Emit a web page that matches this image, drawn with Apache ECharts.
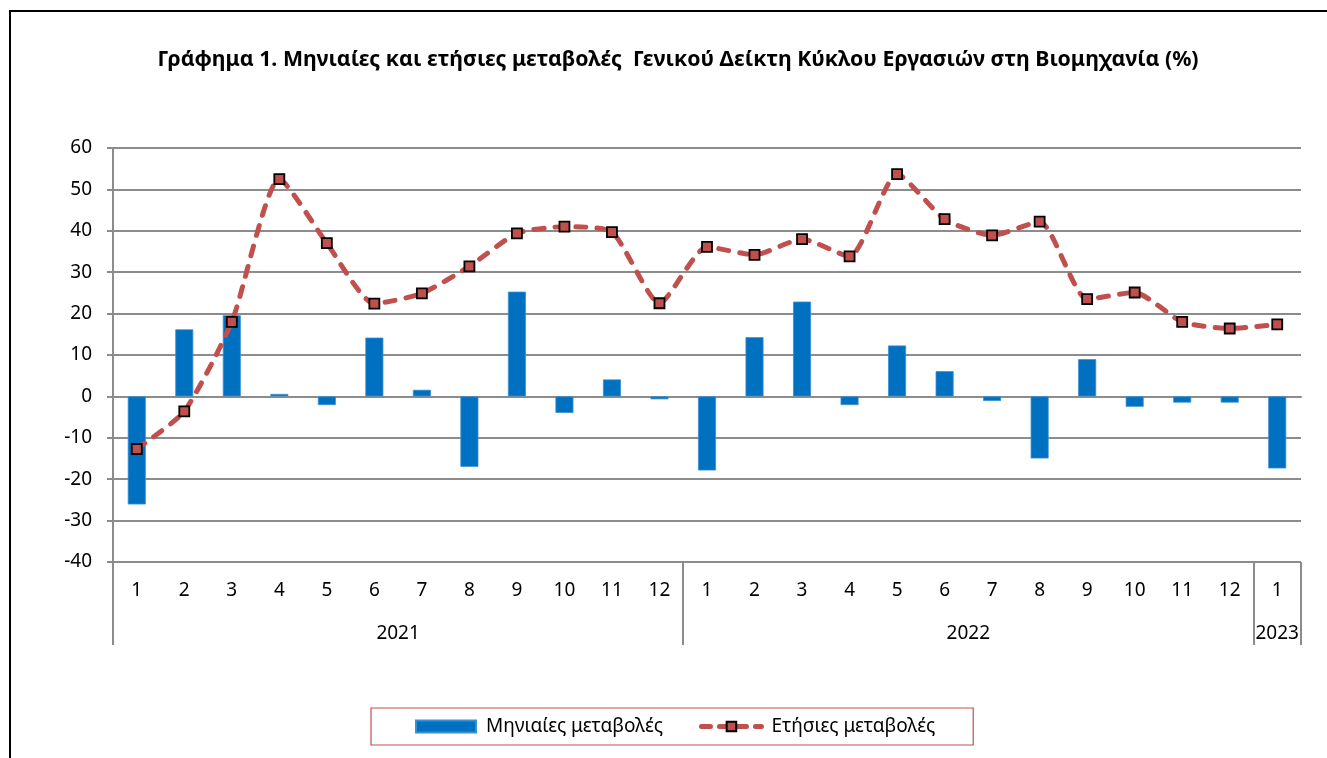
<!DOCTYPE html>
<html>
<head>
<meta charset="utf-8">
<script src="https://cdn.jsdelivr.net/npm/echarts@6/dist/echarts.min.js"></script>
<style>
  html, body { margin: 0; padding: 0; background: #fff; }
  #chart { width: 1327px; height: 758px; }
</style>
</head>
<body>
<div id="chart"></div>
<script>
// months of each year, 2021-01 .. 2023-01
var months = ['1','2','3','4','5','6','7','8','9','10','11','12',
              '1','2','3','4','5','6','7','8','9','10','11','12','1'];
var years = ['2021', '2022', '2023'];
var yearSpans = [12, 12, 1];   // months in each year group

// Μηνιαίες μεταβολές (bars)
var monthly = [-26.1, 16.2, 19.6, 0.6, -2.1, 14.2, 1.6, -17.0, 25.3, -4.0, 4.1, -0.7,
               -17.9, 14.3, 22.9, -2.1, 12.3, 6.1, -1.1, -15.0, 9.0, -2.5, -1.5, -1.5,
               -17.4];
// Ετήσιες μεταβολές (line)
var yearly = [-12.7, -3.6, 18.0, 52.5, 37.0, 22.4, 24.9, 31.4, 39.4, 41.0, 39.7, 22.5,
              36.1, 34.2, 38.0, 33.8, 53.7, 42.8, 38.9, 42.2, 23.5, 25.1, 18.0, 16.4,
              17.4];

// year group boundaries and centres (in month units)
var yearBounds = [0];
var yearCentres = [];
yearSpans.forEach(function (s, i) {
  yearCentres.push(yearBounds[i] + s / 2);
  yearBounds.push(yearBounds[i] + s);
});

var font = 'Noto Sans';
var gray = '#8c8c8c';
var red = '#C0504D';
var dash = { color: red, width: 5, type: [10, 11], cap: 'round' };

var chart = echarts.init(document.getElementById('chart'));

var option = {
  animation: false,
  textStyle: { fontFamily: font },
  title: {
    text: 'Γράφημα 1. Μηνιαίες και ετήσιες μεταβολές  Γενικού Δείκτη Κύκλου Εργασιών στη Βιομηχανία (%)',
    left: 673,
    top: 44,
    textAlign: 'center',
    textStyle: { fontFamily: font, fontSize: 21.3, fontWeight: 'bold', color: '#000' }
  },
  graphic: [{
    type: 'rect',
    shape: { x: 10, y: 11, width: 1340, height: 780 },
    style: { fill: 'none', stroke: '#000', lineWidth: 2 },
    silent: true
  }],
  legend: {
    left: 371,
    top: 708,
    padding: [9, 38, 9, 44],
    itemGap: 36,
    itemWidth: 60,
    itemHeight: 12,
    borderColor: red,
    borderWidth: 1.2,
    lineStyle: { width: 5, type: [9, 9], cap: 'round', color: red },
    textStyle: { fontFamily: font, fontSize: 19, color: '#000', padding: [0, 0, 0, 5] },
    data: [
      { name: 'Μηνιαίες μεταβολές', icon: 'rect' },
      { name: 'Ετήσιες μεταβολές' }
    ]
  },
  grid: { left: 113, right: 26, top: 148, bottom: 196 },
  xAxis: [{
    // axis at zero with short ticks
    type: 'category',
    data: months,
    position: 'bottom',
    axisLine: { onZero: true, lineStyle: { color: gray, width: 2 } },
    axisTick: { length: 7, lineStyle: { color: gray, width: 2 } },
    axisLabel: { show: false }
  }, {
    // month labels at the bottom
    type: 'category',
    data: months,
    position: 'bottom',
    axisLine: { show: false, onZero: false },
    axisTick: { length: 42, lineStyle: { color: gray, width: 2 } },
    axisLabel: { margin: 19, fontSize: 19, color: '#000' }
  }, {
    // year groups
    type: 'value',
    min: 0,
    max: months.length,
    position: 'bottom',
    axisLine: { show: false, onZero: false },
    splitLine: { show: false },
    axisTick: { customValues: yearBounds, length: 83, lineStyle: { color: gray, width: 2 } },
    axisLabel: {
      customValues: yearCentres,
      margin: 62,
      fontSize: 19,
      color: '#000',
      formatter: function (v) { return years[yearCentres.indexOf(v)]; }
    }
  }],
  yAxis: {
    type: 'value',
    min: -40,
    max: 60,
    interval: 10,
    axisLine: { show: true, lineStyle: { color: gray, width: 2 } },
    axisTick: { show: true, length: 6, lineStyle: { color: gray, width: 2 } },
    axisLabel: { margin: 21, fontSize: 19, color: '#000' },
    splitLine: { lineStyle: { color: gray, width: 2 } }
  },
  series: [{
    name: 'Μηνιαίες μεταβολές',
    type: 'bar',
    xAxisIndex: 0,
    data: monthly,
    barWidth: 18,
    itemStyle: { color: '#0070C0', borderColor: '#3a8fd3', borderWidth: 0.8 }
  }, {
    name: 'Ετήσιες μεταβολές',
    type: 'line',
    xAxisIndex: 0,
    data: yearly,
    smooth: 0.2,
    symbol: 'rect',
    symbolSize: 10,
    z: 5,
    lineStyle: dash,
    itemStyle: { color: red, borderColor: '#000', borderWidth: 1.8 }
  }]
};

chart.setOption(option);
</script>
</body>
</html>
